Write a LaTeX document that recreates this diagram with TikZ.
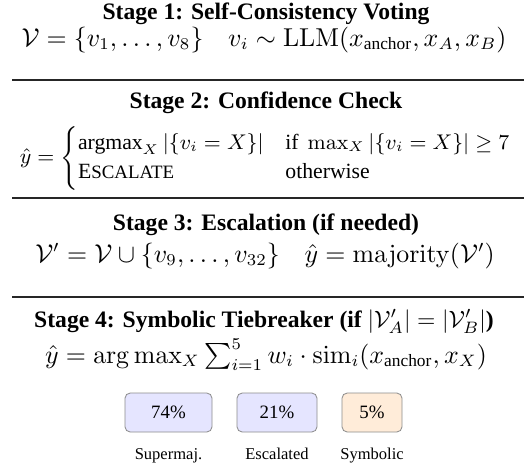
\documentclass[tikz,border=0pt]{standalone}
\usepackage{amsmath}
\usepackage[no-math]{fontspec}
\setmainfont{Liberation Serif}
\newcommand{\fakesc}[1]{{\footnotesize\MakeUppercase{#1}}}
\begin{document}
\begin{tikzpicture}[x=0.4237pt,y=-0.4237pt,
  stagetitle/.style={anchor=base,inner sep=0pt,font=\bfseries},
  eqline/.style={anchor=base,inner sep=0pt,font=\fontsize{10.5}{12.5}\selectfont},
  rule/.style={line width=0.45pt,black!85},
  pctbox/.style={draw=black!45,line width=0.35pt,rounded corners=2.2pt,minimum height=39*0.4237pt,inner sep=0pt,font=\footnotesize},
  pctlabel/.style={anchor=base,inner sep=0pt,font=\scriptsize}]
\useasboundingbox (0,0) rectangle (524,465);
% Stage 1
\node[stagetitle] (t1) at (266,19) {Stage 1: Self-Consistency Voting};
\node[eqline] (e1) at (264,46) {$\mathcal{V}=\{v_1,\ldots,v_8\}\quad v_i\sim\mathrm{LLM}(x_{\text{anchor}},x_A,x_B)$};
\coordinate (r1a) at (12,80); \coordinate (r1b) at (524,80);
\draw[rule] (r1a) -- (r1b);
% Stage 2
\node[stagetitle] (t2) at (266,108) {Stage 2: Confidence Check};
\node[inner sep=0pt,font=\fontsize{9.2}{10.5}\selectfont] (e2) at (266,158) {\renewcommand{\arraystretch}{0.92}$\hat{y}=\begin{cases}\text{argmax}_X\,|\{v_i=X\}| & \text{if }\max_X|\{v_i=X\}|\geq 7\\ \text{E\fakesc{scalate}} & \text{otherwise}\end{cases}$};
\coordinate (r2a) at (12,198); \coordinate (r2b) at (524,198);
\draw[rule] (r2a) -- (r2b);
% Stage 3
\node[stagetitle] (t3) at (266,230) {Stage 3: Escalation (if needed)};
\node[eqline] (e3) at (265,262) {$\mathcal{V}'=\mathcal{V}\cup\{v_9,\ldots,v_{32}\}\quad\hat{y}=\mathrm{majority}(\mathcal{V}')$};
\coordinate (r3a) at (12,297); \coordinate (r3b) at (524,297);
\draw[rule] (r3a) -- (r3b);
% Stage 4
\node[stagetitle] (t4) at (264,327) {Stage 4: Symbolic Tiebreaker (if $|\mathcal{V}'_A|=|\mathcal{V}'_B|$)};
\node[eqline] (e4) at (266,363) {$\hat{y}=\arg\max_X\sum_{i=1}^{5}w_i\cdot\mathrm{sim}_i(x_{\text{anchor}},x_X)$};
% boxes
\node[pctbox,fill=blue!10,minimum width=87*0.4237pt] (b1) at (168.5,412.5) {74\%};
\node[pctbox,fill=blue!10,minimum width=80*0.4237pt] (b2) at (277,412.5) {21\%};
\node[pctbox,fill=orange!15,minimum width=60*0.4237pt] (b3) at (372,412.5) {5\%};
\node[pctlabel] (l1) at (168.5,459) {Supermaj.};
\node[pctlabel] (l2) at (277,459) {Escalated};
\node[pctlabel] (l3) at (372,459) {Symbolic};
\end{tikzpicture}
\end{document}
